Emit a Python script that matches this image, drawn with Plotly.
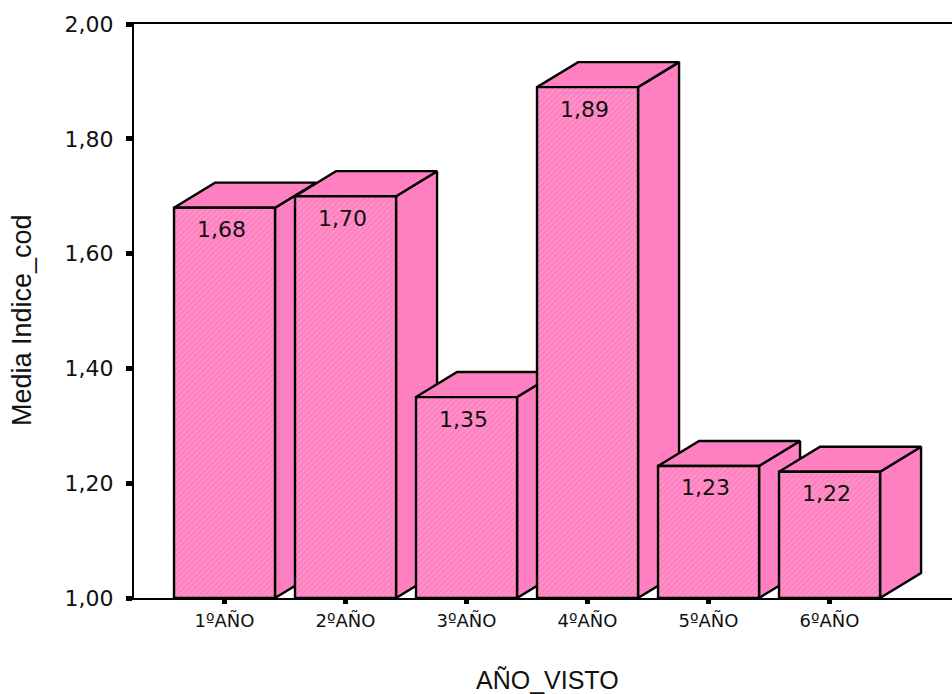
import plotly.graph_objects as go

# Mean of Indice_cod by year seen
categories = ["1ºAÑO", "2ºAÑO", "3ºAÑO", "4ºAÑO", "5ºAÑO", "6ºAÑO"]
means = [1.68, 1.70, 1.35, 1.89, 1.23, 1.22]
y_ticks = [1.0, 1.2, 1.4, 1.6, 1.8, 2.0]

BASE = 1.0
HALF_W = 0.4174      # half width of the front face (category units)
DX = 0.339           # depth offset along x (category units)
DY = 0.0436          # depth offset along y (data units)

FRONT = "#FF80C0"
HATCH = "#FFB4DA"
SIDE = "#FF80C0"
EDGE = "#000000"

fig = go.Figure()


def face(xs, ys, pattern=False):
    kw = dict(
        x=xs + [xs[0]], y=ys + [ys[0]], mode="lines", fill="toself",
        fillcolor=SIDE, line=dict(color=EDGE, width=2.4),
        hoverinfo="skip", showlegend=False,
    )
    if pattern:
        kw["fillcolor"] = FRONT
        kw["fillpattern"] = dict(shape="/", bgcolor=FRONT, fgcolor=HATCH,
                                 size=4, solidity=0.3)
    fig.add_trace(go.Scatter(**kw))


# each bar: side, top, then front face, drawn left to right
for i, v in enumerate(means):
    xl, xr = i - HALF_W, i + HALF_W
    face([xr, xr + DX, xr + DX, xr], [BASE, BASE + DY, v + DY, v])
    face([xl, xr, xr + DX, xl + DX], [v, v, v + DY, v + DY])
    face([xl, xr, xr, xl], [BASE, BASE, v, v], pattern=True)

annotations = []
for i, v in enumerate(means):
    annotations.append(dict(
        x=i, y=v, xref="x", yref="y", showarrow=False,
        text=f"{v:.2f}".replace(".", ","), xanchor="center", yanchor="middle",
        xshift=-3, yshift=-22,
        font=dict(family="DejaVu Sans", size=22, color="#111111"),
    ))

annotations.append(dict(
    x=(22 - 134) / 818, y=(598 - 320) / 574, xref="paper", yref="paper",
    text="Media Indice_cod", textangle=-90, showarrow=False,
    xanchor="center", yanchor="middle",
    font=dict(family="Liberation Sans", size=27, color="#111111"),
))
annotations.append(dict(
    x=(547 - 134) / 818, y=(598 - 680) / 574, xref="paper", yref="paper",
    text="AÑO_VISTO", showarrow=False, xanchor="center", yanchor="middle",
    font=dict(family="Liberation Sans", size=25, color="#111111"),
))

fig.update_layout(
    width=952, height=694,
    margin=dict(l=134, r=0, t=24, b=96),
    paper_bgcolor="white", plot_bgcolor="white",
    separators=",.",
    annotations=annotations,
    xaxis=dict(
        range=[-0.748, 6.012], tickmode="array",
        tickvals=list(range(len(categories))), ticktext=categories,
        showgrid=False, zeroline=False,
        showline=True, linecolor="black", linewidth=2.4, mirror=True,
        ticks="outside", ticklen=4, tickwidth=5, tickcolor="black",
        tickfont=dict(family="DejaVu Sans", size=18, color="#111111"),
        ticklabelstandoff=1,
    ),
    yaxis=dict(
        range=[1.0, 2.0], tickmode="array", tickvals=y_ticks,
        tickformat=".2f",
        showgrid=False, zeroline=False,
        showline=True, linecolor="black", linewidth=2.4,
        ticks="outside", ticklen=6, tickwidth=5, tickcolor="black",
        tickfont=dict(family="DejaVu Sans", size=22, color="#111111"),
        ticklabelstandoff=8,
    ),
)

fig.write_html("out.html")
